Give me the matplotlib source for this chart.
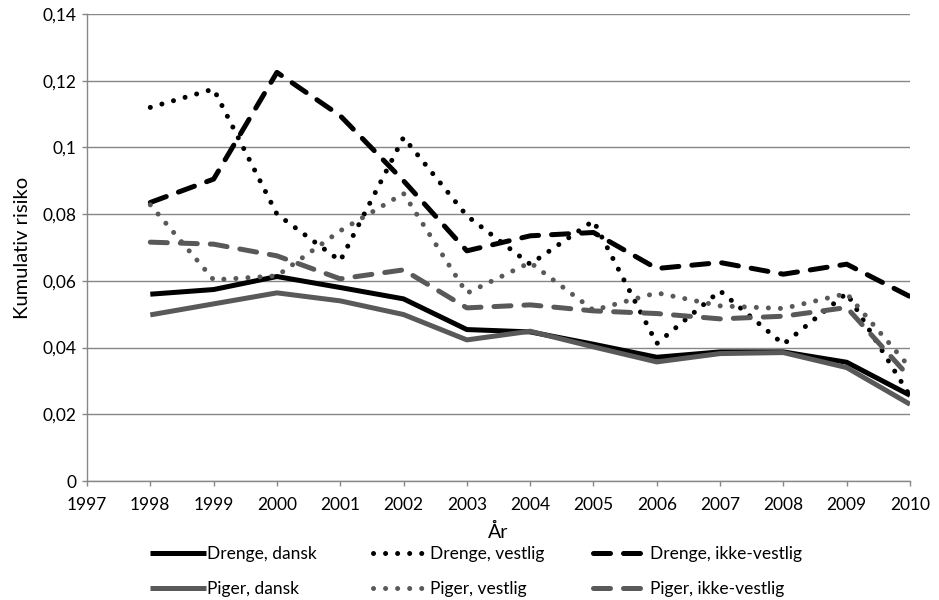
import numpy as np
import matplotlib
matplotlib.use("Agg")
import matplotlib.pyplot as plt
from matplotlib.ticker import FuncFormatter, MultipleLocator

plt.rcParams['font.family'] = ['Lato', 'DejaVu Sans']

years = [1998, 1999, 2000, 2001, 2002, 2003, 2004, 2005, 2006, 2007, 2008, 2009, 2010]

drenge_dansk = [0.056, 0.0574, 0.0613, 0.0580, 0.0546, 0.0454, 0.0447, 0.0410, 0.0371, 0.0387, 0.0387, 0.0356, 0.0257]
drenge_vestlig = [0.112, 0.1175, 0.0800, 0.0660, 0.1030, 0.0795, 0.0650, 0.0780, 0.0412, 0.0570, 0.0410, 0.0563, 0.0255]
drenge_ikke_vestlig = [0.0835, 0.0905, 0.1225, 0.1095, 0.0900, 0.0690, 0.0735, 0.0745, 0.0637, 0.0655, 0.0620, 0.0650, 0.0553]
piger_dansk = [0.0498, 0.0531, 0.0564, 0.0540, 0.0499, 0.0423, 0.0449, 0.0402, 0.0357, 0.0382, 0.0385, 0.0340, 0.0230]
piger_vestlig = [0.0828, 0.0603, 0.0615, 0.0750, 0.0862, 0.0563, 0.0655, 0.0512, 0.0564, 0.0525, 0.0517, 0.0562, 0.0340]
piger_ikke_vestlig = [0.0716, 0.0710, 0.0675, 0.0606, 0.0633, 0.0519, 0.0528, 0.0510, 0.0502, 0.0486, 0.0494, 0.0520, 0.0310]

labels = ["Drenge, dansk", "Drenge, vestlig", "Drenge, ikke-vestlig",
          "Piger, dansk", "Piger, vestlig", "Piger, ikke-vestlig"]

BLACK = "#000000"
GREY = "#595959"
GRID = "#878787"
LW = 3.6
dotted = (0, (0.01, 2.4))
dashed = (0, (3.4, 2.6))

fig = plt.figure(figsize=(9.39, 6.0), dpi=100)
ax = fig.add_axes([87 / 939, 1 - 481 / 600, (910 - 87) / 939, (481 - 14) / 600])

series = [
    (drenge_dansk, BLACK, '-'),
    (drenge_vestlig, BLACK, dotted),
    (drenge_ikke_vestlig, BLACK, dashed),
    (piger_dansk, GREY, '-'),
    (piger_vestlig, GREY, dotted),
    (piger_ikke_vestlig, GREY, dashed),
]
handles = []
for (vals, col, ls), lab in zip(series, labels):
    h, = ax.plot(years, vals, color=col, linestyle=ls, linewidth=LW,
                 dash_capstyle='round', solid_capstyle='butt', label=lab, zorder=3)
    handles.append(h)

ax.set_xlim(1997, 2010)
ax.set_ylim(0, 0.14)
ax.xaxis.set_major_locator(MultipleLocator(1))
ax.yaxis.set_major_locator(MultipleLocator(0.02))
ax.yaxis.set_major_formatter(FuncFormatter(lambda v, p: ("%g" % round(v, 2)).replace('.', ',')))
ax.grid(axis='y', color=GRID, linewidth=1.0, zorder=0)
for s in ['top', 'right']:
    ax.spines[s].set_visible(False)
for s in ['left', 'bottom']:
    ax.spines[s].set_color(GRID)
    ax.spines[s].set_linewidth(1.0)
ax.tick_params(axis='both', direction='out', color=GRID, length=3.6, width=1.0, labelsize=12.5, labelcolor='black')
ax.tick_params(axis='x', pad=8)
ax.tick_params(axis='y', pad=4)

ax.set_xlabel("År", fontsize=14, labelpad=7)
ax.set_ylabel("Kumulativ risiko", fontsize=14.5, labelpad=8)

# three legend columns, two rows each
col_x = [150, 373, 593]
for i in range(3):
    fig.legend([handles[i], handles[i + 3]], [labels[i], labels[i + 3]],
               loc='upper left', bbox_to_anchor=(col_x[i] / 939, 1 - 546 / 600),
               frameon=False, fontsize=12.5, handlelength=3.2, handletextpad=0.1,
               labelspacing=1.1, borderpad=0, borderaxespad=0)

fig.savefig("out.png", dpi=100)
